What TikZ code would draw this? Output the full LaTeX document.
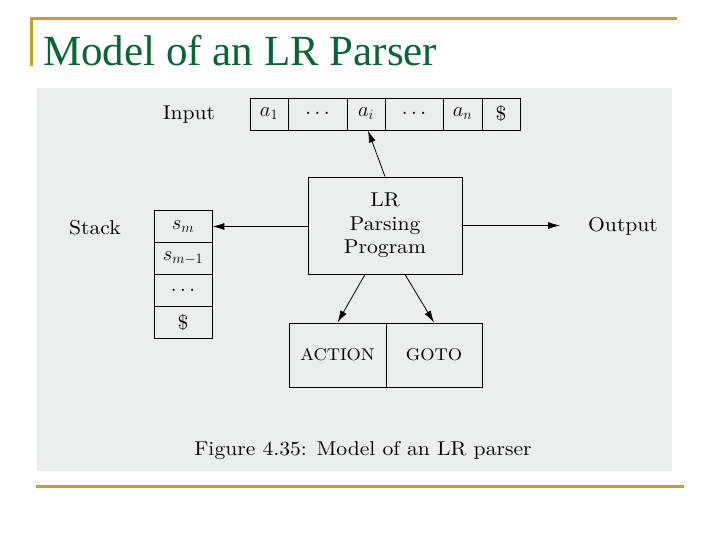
\documentclass[tikz,border=0pt]{standalone}
\usepackage{fontspec}
\setmainfont{lmroman10-regular.otf}[FakeStretch=1.08]
\newfontfamily\titlefont{Liberation Serif}
\usetikzlibrary{arrows.meta,calc}
\definecolor{gold}{RGB}{200,160,40}
\definecolor{titlegreen}{RGB}{10,100,55}
\definecolor{scanbg}{RGB}{236,238,238}
\begin{document}
\begin{tikzpicture}[x=1bp,y=-1bp,
  every node/.style={font=\fontsize{20bp}{23.5bp}\selectfont},
  cell/.style={draw, line width=0.9bp, inner sep=0pt, minimum height=32bp},
  bigbox/.style={draw, line width=0.9bp, inner sep=0pt, align=center},
  tablefont/.style={font=\fontsize{17bp}{20bp}\selectfont},
  arr/.style={line width=0.8bp, -{Latex[length=12bp,width=7bp]}},
  rule/.style={gold, line width=3bp}]
\useasboundingbox (0,0) rectangle (720,540);
% slide frame
\draw[rule] (29.5,18.5) -- (677,18.5);
\draw[rule] (31,18.5) -- (31,66);
\draw[rule] (36,486.5) -- (684,486.5);
\node[anchor=base west, inner sep=0pt, text=titlegreen,
      font=\titlefont\fontsize{43bp}{50bp}\selectfont] (title) at (43,65.7) {Model of an LR Parser};
% scanned figure background
\fill[scanbg] (37,88) rectangle (672,470.5);
% input tape
\node (inlabel) at (189,115) {Input};
\node[cell, minimum width=38bp] (a1) at (269,114) {$a_1$};
\node[cell, minimum width=59bp] (d1) at (317.5,114) {$\cdots$};
\node[cell, minimum width=38bp] (ai) at (366,114) {$a_i$};
\node[cell, minimum width=58bp] (d2) at (414,114) {$\cdots$};
\node[cell, minimum width=39bp] (an) at (462.5,114) {$a_n$};
\node[cell, minimum width=38bp] (end) at (501,114) {\$};
% LR parsing program
\node[bigbox, minimum width=154bp, minimum height=97bp] (lr) at (385,225.5) {LR\\Parsing\\Program};
% stack
\node (stlabel) at (95,228) {Stack};
\node[cell, minimum width=58bp] (sm) at (183,226.5) {$s_m$};
\node[cell, minimum width=58bp] (sm1) at (183,258.5) {$s_{m-1}$};
\node[cell, minimum width=58bp] (sd) at (183,290.5) {$\cdots$};
\node[cell, minimum width=58bp] (sb) at (183,322.5) {\$};
% output
\node (outlabel) at (623,226) {Output};
\coordinate (outtip) at (560,225.5);
% action / goto
\node[cell, tablefont, minimum width=97bp, minimum height=64bp] (action) at (337.5,355) {ACTION};
\node[cell, tablefont, minimum width=96bp, minimum height=64bp] (goto) at (434,355) {GOTO};
% connectors
\draw[arr] (lr.north) -- ($(ai.south)+(2,0)$);
\draw[arr] (lr.west |- sm.east) -- (sm.east);
\draw[arr] (lr.east |- outtip) -- (outtip);
\draw[arr] ($(lr.south)+(-20,0)$) -- (action.north);
\draw[arr] ($(lr.south)+(20,0)$) -- (goto.north);
% caption
\node (caption) at (363,451) {Figure 4.35: Model of an LR parser};
\end{tikzpicture}
\end{document}
